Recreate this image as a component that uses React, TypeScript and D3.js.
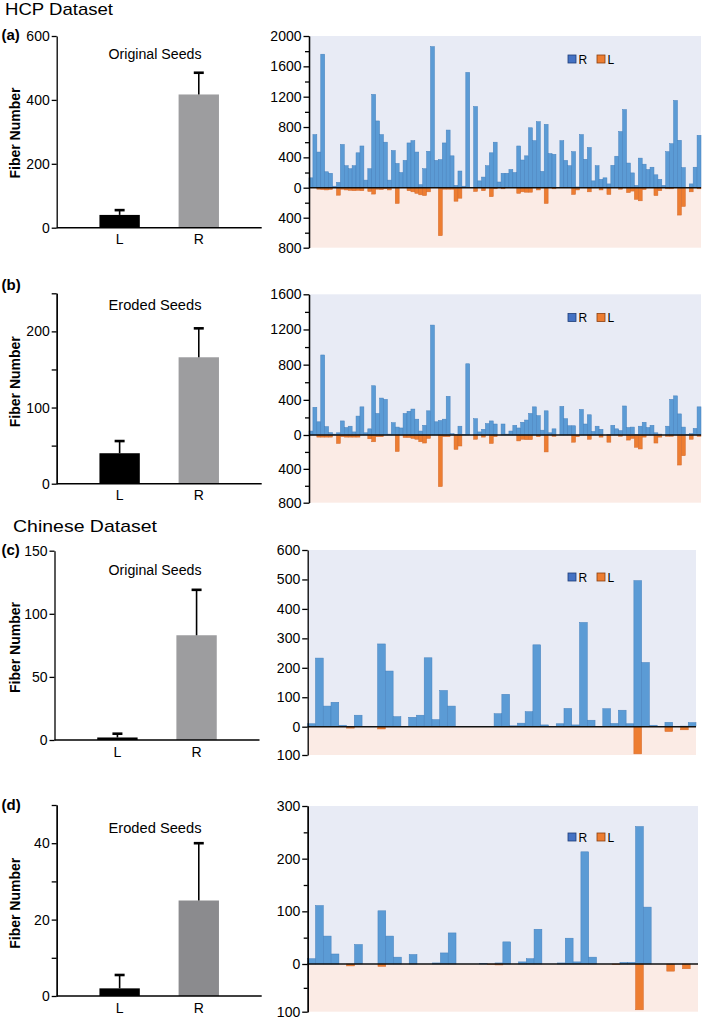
import { useEffect, useRef } from 'react';
import * as d3 from 'd3';

const FONT = '"Liberation Sans", Arial, Helvetica, sans-serif';
const GROUPS = ['L', 'R'];

// per-subject fibre counts, HCP dataset (100 subjects)
const HCP_ORIG_R = [130, 700, 470, 1760, 210, 190, 20, 70, 570, 290, 250, 290, 460, 550, 100, 250, 1230, 880, 700, 600,
  100, 490, 320, 200, 360, 590, 620, 470, 40, 250, 480, 1860, 360, 370, 590, 760, 420, 30, 220, 20,
  1520, 0, 1070, 90, 140, 290, 460, 600, 75, 190, 190, 240, 200, 550, 365, 420, 790, 620, 870, 215,
  835, 450, 440, 0, 620, 360, 290, 475, 10, 700, 375, 530, 90, 290, 110, 130, 50, 295, 415, 740,
  1030, 325, 195, 30, 390, 310, 240, 270, 170, 110, 30, 475, 580, 1150, 625, 265, 0, 50, 270, 690];
const HCP_ORIG_L = [0, 0, 20, 25, 30, 25, 0, 100, 20, 30, 35, 40, 35, 40, 0, 50, 85, 20, 25, 15,
  30, 0, 210, 0, 0, 40, 55, 75, 95, 105, 55, 0, 0, 640, 20, 20, 20, 180, 140, 0,
  0, 0, 50, 0, 40, 0, 120, 15, 0, 15, 0, 0, 0, 75, 55, 60, 60, 0, 30, 0,
  210, 0, 15, 0, 0, 0, 0, 90, 30, 0, 0, 55, 0, 0, 30, 0, 90, 0, 0, 20,
  0, 65, 45, 155, 175, 25, 0, 0, 105, 40, 0, 15, 15, 0, 365, 250, 0, 55, 0, 15];
const HCP_ERODED_R = [45, 315, 150, 910, 95, 27, 10, 25, 160, 85, 100, 35, 215, 320, 25, 70, 560, 245, 420, 405,
  10, 140, 90, 80, 245, 270, 295, 180, 45, 110, 275, 1250, 150, 165, 180, 440, 15, 5, 100, 5,
  810, 0, 185, 35, 65, 130, 160, 125, 0, 125, 10, 45, 110, 80, 145, 170, 245, 320, 220, 55,
  275, 25, 70, 0, 325, 185, 105, 105, 0, 290, 125, 230, 40, 100, 65, 0, 5, 110, 70, 50,
  330, 85, 90, 5, 100, 145, 85, 110, 25, 10, 0, 100, 405, 445, 240, 90, 5, 15, 75, 320];
const HCP_ERODED_L = [0, 0, 25, 25, 25, 25, 0, 100, 20, 25, 25, 25, 25, 0, 0, 45, 80, 20, 20, 0,
  0, 0, 195, 0, 30, 30, 40, 50, 80, 95, 40, 0, 0, 610, 20, 20, 0, 170, 130, 0,
  0, 0, 50, 0, 25, 0, 100, 20, 0, 0, 0, 0, 0, 70, 50, 55, 55, 0, 20, 0,
  200, 0, 15, 0, 0, 0, 0, 85, 20, 0, 0, 50, 0, 0, 25, 0, 85, 0, 0, 15,
  0, 60, 40, 145, 165, 25, 0, 0, 95, 25, 0, 15, 15, 0, 355, 245, 0, 50, 0, 15];

// Chinese dataset (50 subjects)
const CN_ORIG_R = [10, 233, 70, 83, 5, 0, 39, 0, 0, 281, 189, 34, 0, 32, 39, 234, 24, 123, 70, 0,
  0, 0, 0, 0, 44, 110, 3, 12, 51, 278, 6, 0, 10, 62, 6, 354, 22, 0, 61, 11,
  56, 10, 496, 218, 5, 0, 15, 0, 2, 14];
const CN_ORIG_L = [0, 0, 0, 0, 0, 5, 0, 0, 0, 8, 0, 0, 0, 0, 0, 0, 0, 0, 0, 0,
  0, 0, 0, 0, 0, 0, 0, 0, 0, 0, 0, 0, 0, 0, 0, 0, 0, 0, 0, 0,
  0, 0, 96, 0, 0, 0, 17, 0, 11, 0];
const CN_ERODED_R = [10, 111, 53, 19, 0, 0, 37, 0, 0, 101, 53, 13, 0, 18, 0, 0, 2, 21, 59, 0,
  0, 0, 1, 0, 2, 42, 0, 4, 10, 66, 0, 0, 2, 49, 4, 213, 13, 0, 0, 0,
  3, 3, 261, 108, 0, 0, 0, 0, 0, 0];
const CN_ERODED_L = [0, 0, 0, 0, 0, 4, 0, 0, 0, 5, 0, 0, 0, 0, 0, 0, 0, 0, 0, 0,
  0, 0, 0, 1, 2, 0, 0, 0, 0, 0, 0, 0, 0, 0, 0, 0, 0, 0, 0, 1,
  0, 0, 96, 0, 0, 0, 15, 0, 10, 0];

// group means and SD (L, R)
const HCP_ORIG_MEAN = [40, 417], HCP_ORIG_SD = [15, 68];
const HCP_ERODED_MEAN = [40, 166], HCP_ERODED_SD = [16, 38];
const CN_ORIG_MEAN = [2, 83], CN_ORIG_SD = [3, 36];
const CN_ERODED_MEAN = [2, 25], CN_ERODED_SD = [3.5, 15];

const SUMMARY = [
  { mean: HCP_ORIG_MEAN, sd: HCP_ORIG_SD, max: 600, ticks: [0, 200, 400, 600], minor: [], ax: 56.7, y0: 227.7, yTop: 36, title: 'Original Seeds', ty: 58.7, tag: '(a)', tagY: 40, ly: 133, rc: '#9d9d9f' },
  { mean: HCP_ERODED_MEAN, sd: HCP_ERODED_SD, max: 250, ticks: [0, 100, 200], minor: [50, 150, 250], ax: 56.7, y0: 483.7, yTop: 293.3, title: 'Eroded Seeds', ty: 310, tag: '(b)', tagY: 289.5, ly: 381.7, rc: '#9d9d9f' },
  { mean: CN_ORIG_MEAN, sd: CN_ORIG_SD, max: 150, ticks: [0, 50, 100, 150], minor: [], ax: 54.5, y0: 740, yTop: 550.7, title: 'Original Seeds', ty: 575.3, tag: '(c)', tagY: 555, ly: 647.5, rc: '#9d9d9f' },
  { mean: CN_ERODED_MEAN, sd: CN_ERODED_SD, max: 50, ticks: [0, 20, 40], minor: [10, 30, 50], ax: 56.7, y0: 996, yTop: 805, title: 'Eroded Seeds', ty: 832.7, tag: '(d)', tagY: 810, ly: 903.3, rc: '#8b8b8e' },
];

const SUBJECTS = [
  { R: HCP_ORIG_R, L: HCP_ORIG_L, max: 2000, neg: 800, ticks: [-800, -400, 0, 400, 800, 1200, 1600, 2000], minor: [-600, -200, 200, 600, 1000, 1400, 1800], ax: 309, xEnd: 701, yTop: 36, y0: 187.7, yBot: 247.7, legY: 59 },
  { R: HCP_ERODED_R, L: HCP_ERODED_L, max: 1600, neg: 800, ticks: [-800, -400, 0, 400, 800, 1200, 1600], minor: [-600, -200, 200, 600, 1000, 1400], ax: 309, xEnd: 701, yTop: 294.3, y0: 435, yBot: 502.7, legY: 317.5 },
  { R: CN_ORIG_R, L: CN_ORIG_L, max: 600, neg: 100, ticks: [-100, 0, 100, 200, 300, 400, 500, 600], minor: [], ax: 307.7, xEnd: 696, yTop: 550, y0: 726.7, yBot: 755, legY: 577 },
  { R: CN_ERODED_R, L: CN_ERODED_L, max: 300, neg: 100, ticks: [-100, 0, 100, 200, 300], minor: [-50, 50, 150, 250], ax: 307.7, xEnd: 698, yTop: 806, y0: 964, yBot: 1011.7, legY: 837 },
];

const HEADERS = [{ text: 'HCP Dataset', x: 5, y: 15, w: 108 }, { text: 'Chinese Dataset', x: 13, y: 531.5, w: 144 }];

function styleAxis(g, size = 14) {
  g.selectAll('.domain, .tick line').attr('stroke', '#000').attr('stroke-width', 1.3);
  g.selectAll('text').attr('fill', '#000').attr('font-size', size).attr('font-family', FONT);
}

function drawSummary(svg, p) {
  const g = svg.append('g');
  const x = d3.scaleBand().domain(GROUPS).range([p.ax, p.ax + 205]).paddingInner(0.49).paddingOuter(0.54);
  const y = d3.scaleLinear().domain([0, p.max]).range([p.y0, p.yTop]);
  g.selectAll('rect').data(GROUPS).join('rect')
    .attr('x', d => x(d)).attr('width', x.bandwidth())
    .attr('y', (d, i) => y(p.mean[i])).attr('height', (d, i) => p.y0 - y(p.mean[i]))
    .attr('fill', (d, i) => i ? p.rc : '#000');
  GROUPS.forEach((d, i) => {
    const cx = x(d) + x.bandwidth() / 2, top = y(p.mean[i] + p.sd[i]);
    g.append('line').attr('x1', cx).attr('x2', cx).attr('y1', y(p.mean[i])).attr('y2', top).attr('stroke', '#000').attr('stroke-width', 1.6);
    g.append('line').attr('x1', cx - 5).attr('x2', cx + 5).attr('y1', top).attr('y2', top).attr('stroke', '#000').attr('stroke-width', 2.6);
    g.append('text').attr('x', cx).attr('y', p.y0 + 16.5).attr('text-anchor', 'middle')
      .attr('font-family', FONT).attr('font-size', 14).text(d);
  });
  g.append('line').attr('x1', p.ax).attr('x2', p.ax + 205).attr('y1', p.y0).attr('y2', p.y0).attr('stroke', '#000').attr('stroke-width', 1.5);
  styleAxis(g.append('g').attr('transform', `translate(${p.ax},0)`)
    .call(d3.axisLeft(y).tickValues(p.ticks).tickSize(5).tickSizeOuter(0).tickPadding(2)));
  if (p.minor.length) styleAxis(g.append('g').attr('transform', `translate(${p.ax},0)`)
    .call(d3.axisLeft(y).tickValues(p.minor).tickSize(5).tickSizeOuter(0).tickFormat(() => '')));
  g.append('text').attr('transform', `translate(20,${p.ly}) rotate(-90)`).attr('text-anchor', 'middle')
    .attr('font-family', FONT).attr('font-size', 14).attr('font-weight', 'bold').text('Fiber Number');
  g.append('text').attr('x', 155).attr('y', p.ty).attr('text-anchor', 'middle').attr('font-family', FONT)
    .attr('font-size', 14).attr('textLength', 93).attr('lengthAdjust', 'spacingAndGlyphs').text(p.title);
  g.append('text').attr('x', 1.5).attr('y', p.tagY).attr('font-family', FONT).attr('font-size', 15)
    .attr('font-weight', 'bold').text(p.tag);
}

function drawSubjects(svg, p) {
  const g = svg.append('g');
  const x = d3.scaleBand().domain(d3.range(p.R.length)).range([p.ax, p.xEnd]).padding(0);
  const y = d3.scaleLinear().domain([-p.neg, 0, p.max]).range([p.yBot, p.y0, p.yTop]);
  g.append('rect').attr('x', p.ax).attr('y', p.yTop).attr('width', p.xEnd - p.ax).attr('height', p.y0 - p.yTop).attr('fill', '#e8ebf5');
  g.append('rect').attr('x', p.ax).attr('y', p.y0).attr('width', p.xEnd - p.ax).attr('height', p.yBot - p.y0).attr('fill', '#fbebe5');
  g.append('g').selectAll('rect').data(p.R).join('rect')
    .attr('x', (d, i) => x(i)).attr('width', x.bandwidth()).attr('y', d => y(d)).attr('height', d => p.y0 - y(d))
    .attr('fill', '#5b9bd5').attr('stroke', '#4580bd').attr('stroke-width', d => d > 0 ? 0.5 : 0);
  g.append('g').selectAll('rect').data(p.L).join('rect')
    .attr('x', (d, i) => x(i)).attr('width', x.bandwidth()).attr('y', p.y0).attr('height', d => y(-d) - p.y0)
    .attr('fill', '#ed7d31').attr('stroke', '#d4692a').attr('stroke-width', d => d > 0 ? 0.5 : 0);
  g.append('line').attr('x1', p.ax).attr('x2', p.xEnd).attr('y1', p.y0).attr('y2', p.y0).attr('stroke', '#111').attr('stroke-width', 1.6);
  styleAxis(g.append('g').attr('transform', `translate(${p.ax},0)`)
    .call(d3.axisLeft(y).tickValues(p.ticks).tickSize(5.5).tickSizeOuter(0).tickPadding(2).tickFormat(d => Math.abs(d))));
  if (p.minor.length) styleAxis(g.append('g').attr('transform', `translate(${p.ax},0)`)
    .call(d3.axisLeft(y).tickValues(p.minor).tickSize(4).tickSizeOuter(0).tickFormat(() => '')));
  const lg = g.append('g').attr('transform', `translate(568,${p.legY})`);
  [['R', '#4472c4', '#1f3d78', 0], ['L', '#ed7d31', '#8a3f10', 29]].forEach(([t, c, s, dx]) => {
    lg.append('rect').attr('x', dx).attr('y', -4).attr('width', 8).attr('height', 8).attr('fill', c).attr('stroke', s).attr('stroke-width', 0.8);
    lg.append('text').attr('x', dx + 10.5).attr('y', 4.5).attr('font-family', FONT).attr('font-size', 12).text(t);
  });
}

export default function App() {
  const ref = useRef(null);
  useEffect(() => {
    const svg = d3.select(ref.current); svg.selectAll('*').remove();
    HEADERS.forEach(h => svg.append('text').attr('x', h.x).attr('y', h.y).attr('font-family', FONT).attr('font-size', 17)
      .attr('textLength', h.w).attr('lengthAdjust', 'spacingAndGlyphs').text(h.text));
    SUMMARY.forEach(p => drawSummary(svg, p));
    SUBJECTS.forEach(p => drawSubjects(svg, p));
  }, []);
  return <svg ref={ref} width={709} height={1019} style={{ position: 'absolute', left: 0, top: 0, background: '#fff' }} />;
}
